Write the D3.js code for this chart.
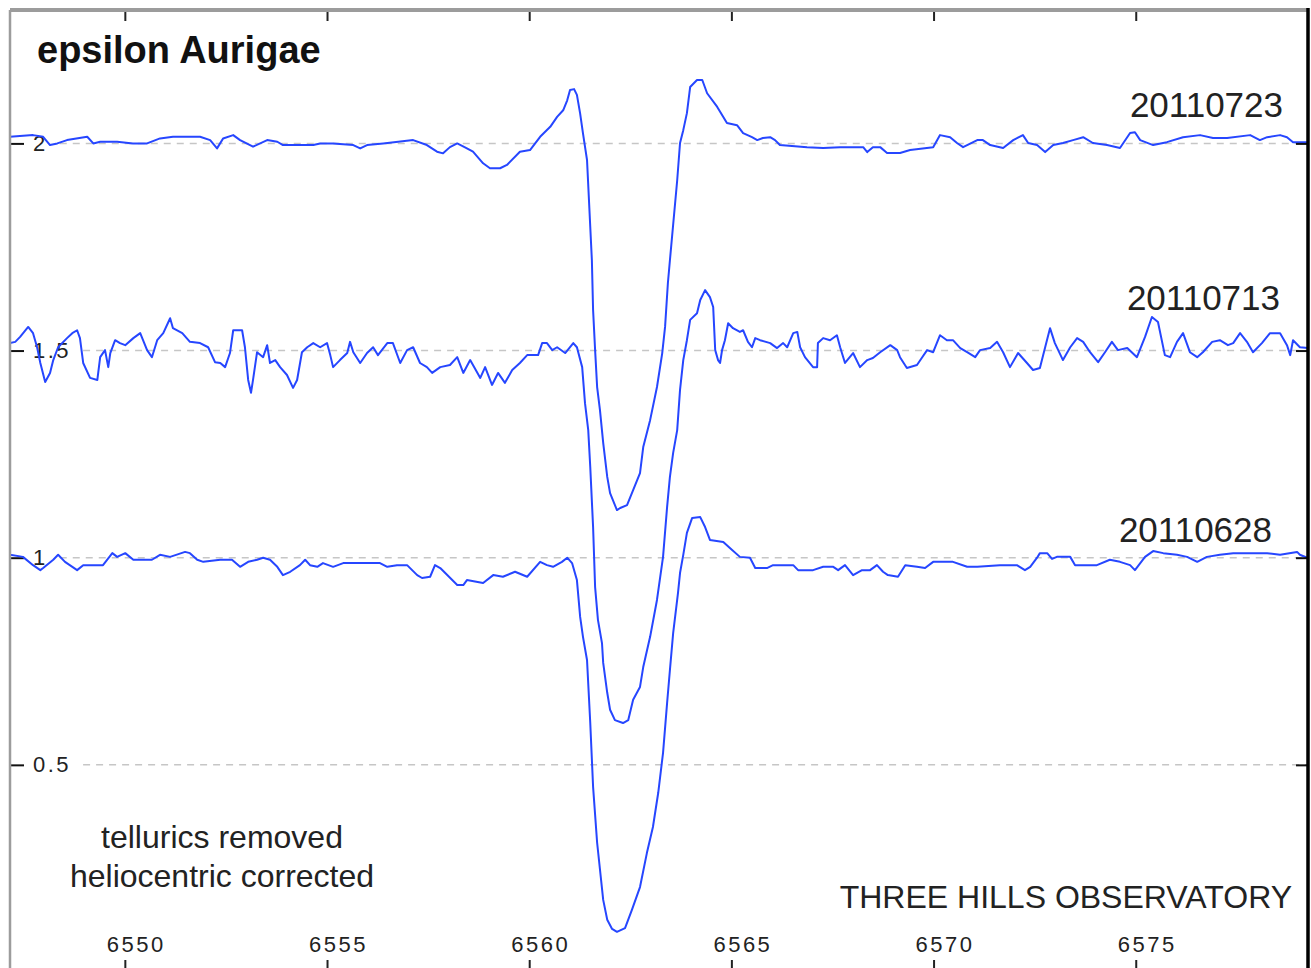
<!DOCTYPE html>
<html><head><meta charset="utf-8">
<script src="https://cdn.jsdelivr.net/npm/d3@7"></script>
<style>body{margin:0;background:#fff}svg{display:block}text{font-family:"Liberation Sans",Arial,sans-serif}</style>
</head><body><svg id="c" width="1311" height="968"></svg>
<script>
const chartTitle = "epsilon Aurigae";
const seriesNames = ["20110723", "20110713", "20110628"];
const notes = ["tellurics removed", "heliocentric corrected"];
const credit = "THREE HILLS OBSERVATORY";
const xTicks = [6550, 6555, 6560, 6565, 6570, 6575];
const yTicks = [0.5, 1, 1.5, 2];

const wl723 = [6547.16,6547.73,6547.98,6548.15,6548.33,6548.57,6549.07,6549.22,6549.39,6549.81,
6550.20,6550.55,6550.87,6551.19,6551.86,6552.11,6552.28,6552.43,6552.68,6552.85,
6553.17,6553.52,6553.77,6553.91,6554.66,6554.83,6555.15,6555.65,6555.82,6555.99,
6556.39,6557.13,6557.47,6557.72,6557.87,6558.04,6558.22,6558.46,6558.61,6558.86,
6559.03,6559.28,6559.45,6559.77,6560.02,6560.27,6560.52,6560.69,6560.84,6560.94,
6561.01,6561.11,6561.18,6561.26,6561.33,6561.43,6561.55,6561.58,6561.63,6561.68,
6561.75,6561.83,6561.93,6562.00,6562.17,6562.25,6562.42,6562.57,6562.74,6562.82,
6562.99,6563.16,6563.29,6563.36,6563.43,6563.48,6563.66,6563.73,6563.81,6563.90,
6563.98,6564.15,6564.28,6564.40,6564.65,6564.89,6565.14,6565.29,6565.51,6565.64,
6565.78,6565.96,6566.08,6566.20,6566.87,6567.27,6567.69,6568.26,6568.36,6568.50,
6568.68,6568.85,6569.17,6569.42,6569.99,6570.16,6570.41,6570.58,6570.73,6571.08,
6571.22,6571.40,6571.72,6571.97,6572.21,6572.34,6572.56,6572.76,6572.96,6573.20,
6573.45,6573.70,6573.94,6574.29,6574.61,6574.86,6574.98,6575.11,6575.43,6575.77,
6576.17,6576.59,6576.91,6577.26,6577.83,6578.07,6578.25,6578.57,6578.74,6578.89,
6579.26];
const fx723 = [2.016,2.020,2.016,1.996,2.000,2.008,2.016,2.000,2.004,2.004,
2.000,2.000,2.012,2.016,2.016,2.008,1.988,2.012,2.020,2.008,
1.992,2.008,2.004,1.996,1.996,2.000,2.000,1.996,1.988,1.996,
2.000,2.008,1.996,1.980,1.976,1.991,2.000,1.988,1.980,1.952,
1.940,1.940,1.948,1.980,1.984,2.016,2.040,2.064,2.080,2.104,
2.129,2.131,2.117,2.072,2.024,1.960,1.718,1.598,1.501,1.412,
1.356,1.277,1.195,1.156,1.115,1.120,1.127,1.163,1.204,1.267,
1.332,1.412,1.494,1.557,1.663,1.718,1.911,2.001,2.032,2.073,
2.136,2.153,2.153,2.121,2.088,2.049,2.044,2.025,2.015,2.008,
2.013,2.015,2.008,1.996,1.991,1.989,1.991,1.991,1.979,1.991,
1.991,1.977,1.977,1.984,1.991,2.020,2.015,2.001,1.991,2.008,
2.008,1.996,1.989,2.008,2.020,2.001,1.996,1.979,1.996,2.001,
2.008,2.015,2.001,1.996,1.989,2.025,2.027,2.008,1.996,2.003,
2.015,2.020,2.013,2.013,2.020,2.008,2.015,2.020,2.015,2.003,
2.003];

const wl713 = [6547.16,6547.29,6547.41,6547.61,6547.73,6547.83,6547.91,6548.03,6548.15,6548.23,
6548.35,6548.57,6548.70,6548.82,6548.89,6548.97,6549.14,6549.32,6549.39,6549.51,
6549.59,6549.64,6549.76,6549.88,6550.01,6550.21,6550.38,6550.55,6550.67,6550.80,
6550.95,6551.12,6551.19,6551.42,6551.61,6551.86,6552.06,6552.23,6552.36,6552.48,
6552.60,6552.68,6552.90,6552.97,6553.05,6553.12,6553.17,6553.27,6553.42,6553.52,
6553.59,6553.72,6553.84,6554.01,6554.16,6554.26,6554.38,6554.51,6554.66,6554.83,
6555.00,6555.08,6555.15,6555.32,6555.50,6555.57,6555.65,6555.82,6555.99,6556.14,
6556.26,6556.49,6556.63,6556.81,6556.98,6557.13,6557.30,6557.47,6557.60,6557.80,
6558.04,6558.22,6558.37,6558.54,6558.79,6558.91,6559.08,6559.23,6559.40,6559.58,
6559.77,6559.95,6560.22,6560.32,6560.44,6560.57,6560.69,6560.89,6561.09,6561.18,
6561.31,6561.38,6561.46,6561.51,6561.58,6561.63,6561.70,6561.80,6561.83,6561.93,
6562.00,6562.12,6562.32,6562.45,6562.57,6562.74,6562.82,6562.99,6563.16,6563.31,
6563.41,6563.48,6563.56,6563.66,6563.73,6563.81,6563.90,6563.98,6564.15,6564.23,
6564.35,6564.47,6564.55,6564.60,6564.67,6564.72,6564.77,6564.84,6564.92,6565.04,
6565.21,6565.29,6565.41,6565.51,6565.59,6565.71,6565.96,6566.13,6566.28,6566.38,
6566.53,6566.63,6566.70,6566.82,6567.02,6567.12,6567.14,6567.27,6567.44,6567.61,
6567.69,6567.81,6568.01,6568.18,6568.36,6568.50,6568.68,6568.93,6569.10,6569.17,
6569.34,6569.59,6569.72,6569.84,6569.99,6570.16,6570.33,6570.48,6570.66,6570.83,
6571.03,6571.15,6571.40,6571.57,6571.72,6571.89,6572.09,6572.31,6572.46,6572.63,
6572.76,6572.88,6573.00,6573.20,6573.38,6573.55,6573.70,6573.87,6574.07,6574.24,
6574.41,6574.56,6574.79,6575.03,6575.23,6575.40,6575.55,6575.72,6575.85,6576.02,
6576.17,6576.34,6576.52,6576.66,6576.89,6577.08,6577.28,6577.41,6577.58,6577.75,
6577.90,6578.12,6578.32,6578.57,6578.74,6578.82,6578.89,6579.06,6579.26];
const fx713 = [1.518,1.521,1.533,1.557,1.542,1.508,1.470,1.424,1.446,1.477,
1.508,1.530,1.542,1.549,1.530,1.470,1.434,1.429,1.484,1.501,
1.460,1.494,1.525,1.518,1.513,1.530,1.542,1.501,1.484,1.525,
1.542,1.578,1.554,1.542,1.521,1.518,1.508,1.472,1.470,1.460,
1.494,1.549,1.549,1.508,1.429,1.398,1.429,1.496,1.484,1.513,
1.470,1.477,1.460,1.441,1.410,1.429,1.496,1.508,1.518,1.508,
1.518,1.489,1.460,1.477,1.494,1.521,1.496,1.470,1.494,1.508,
1.489,1.518,1.518,1.470,1.501,1.508,1.470,1.460,1.446,1.460,
1.465,1.484,1.446,1.477,1.434,1.460,1.417,1.446,1.422,1.453,
1.470,1.489,1.489,1.518,1.518,1.501,1.508,1.494,1.518,1.508,
1.460,1.373,1.308,1.219,1.074,0.929,0.850,0.794,0.746,0.674,
0.633,0.608,0.601,0.608,0.657,0.688,0.736,0.809,0.898,1.002,
1.122,1.195,1.253,1.308,1.405,1.477,1.525,1.574,1.590,1.622,
1.646,1.629,1.605,1.501,1.477,1.470,1.501,1.525,1.566,1.554,
1.545,1.549,1.521,1.508,1.530,1.525,1.518,1.506,1.518,1.508,
1.542,1.545,1.508,1.484,1.460,1.460,1.518,1.530,1.525,1.537,
1.508,1.470,1.494,1.460,1.477,1.482,1.496,1.513,1.501,1.484,
1.458,1.465,1.484,1.501,1.496,1.537,1.525,1.525,1.506,1.496,
1.484,1.501,1.506,1.521,1.496,1.460,1.494,1.470,1.453,1.458,
1.508,1.554,1.518,1.477,1.508,1.530,1.521,1.496,1.472,1.496,
1.521,1.501,1.506,1.484,1.533,1.581,1.569,1.489,1.484,1.521,
1.542,1.496,1.484,1.496,1.521,1.525,1.513,1.518,1.542,1.521,
1.496,1.518,1.542,1.542,1.513,1.489,1.525,1.508,1.506];

const wl628 = [6547.16,6547.48,6547.73,6547.91,6547.98,6548.23,6548.35,6548.52,6548.82,6548.97,
6549.46,6549.69,6549.81,6550.01,6550.21,6550.67,6550.87,6551.12,6551.49,6551.61,
6551.79,6551.94,6552.36,6552.65,6552.85,6553.05,6553.27,6553.42,6553.59,6553.77,
6553.91,6554.09,6554.33,6554.46,6554.58,6554.76,6554.90,6555.15,6555.40,6556.31,
6556.49,6556.73,6556.98,6557.23,6557.35,6557.55,6557.67,6557.80,6558.22,6558.37,
6558.46,6558.86,6559.11,6559.35,6559.65,6559.95,6560.27,6560.44,6560.59,6560.81,
6560.94,6561.06,6561.18,6561.26,6561.33,6561.43,6561.51,6561.58,6561.68,6561.83,
6561.93,6562.05,6562.17,6562.37,6562.54,6562.74,6562.91,6563.06,6563.19,6563.31,
6563.41,6563.48,6563.56,6563.68,6563.73,6563.81,6563.90,6564.03,6564.23,6564.35,
6564.47,6564.80,6564.97,6565.21,6565.46,6565.59,6565.88,6566.03,6566.53,6566.65,
6567.02,6567.27,6567.52,6567.64,6567.81,6568.01,6568.23,6568.43,6568.60,6568.75,
6568.87,6569.12,6569.30,6569.59,6569.79,6569.99,6570.48,6570.83,6571.08,6571.64,
6572.06,6572.26,6572.39,6572.56,6572.63,6572.81,6572.93,6573.05,6573.38,6573.50,
6574.04,6574.36,6574.61,6574.86,6574.98,6575.23,6575.43,6575.68,6576.02,6576.27,
6576.52,6576.76,6577.08,6577.41,6578.25,6578.57,6578.99,6579.06,6579.24];
const fx628 = [1.007,1.002,0.982,0.970,0.975,0.995,1.007,0.990,0.970,0.982,
0.982,1.011,1.002,1.011,0.995,0.995,1.007,1.002,1.014,1.011,
0.995,0.990,0.995,0.995,0.978,0.990,0.995,1.000,0.995,0.978,
0.958,0.966,0.982,0.995,0.982,0.978,0.987,0.978,0.987,0.987,
0.978,0.982,0.982,0.958,0.951,0.954,0.982,0.975,0.934,0.934,
0.946,0.939,0.958,0.954,0.966,0.954,0.990,0.982,0.978,0.990,
1.000,0.987,0.946,0.857,0.809,0.753,0.601,0.447,0.312,0.174,
0.126,0.104,0.097,0.106,0.150,0.205,0.287,0.350,0.432,0.529,
0.649,0.729,0.818,0.915,0.963,1.007,1.060,1.096,1.098,1.074,
1.043,1.038,1.023,1.002,1.000,0.975,0.975,0.982,0.982,0.970,
0.970,0.978,0.978,0.970,0.982,0.958,0.970,0.970,0.982,0.966,
0.958,0.954,0.982,0.978,0.975,0.990,0.990,0.978,0.978,0.982,
0.982,0.970,0.978,1.000,1.011,1.011,0.997,1.002,1.002,0.982,
0.982,0.995,0.990,0.982,0.970,1.002,1.016,1.011,1.007,1.002,
0.990,1.002,1.007,1.011,1.011,1.007,1.014,1.007,1.000];

const W = 1311, H = 968;
const L = 10, R = 1308, T = 10, B = 972;
const x = d3.scaleLinear().domain([6547.16, 6579.26]).range([L, R]);
const y = d3.scaleLinear().domain([0, 2.322]).range([B, T]);
const svg = d3.select("#c");
svg.append("rect").attr("width", W).attr("height", H).attr("fill", "#fff");
svg.append("clipPath").attr("id", "clip").append("rect")
  .attr("x", L).attr("y", T).attr("width", R - L).attr("height", B - T);

// left axis (labels first, to measure)
const gl = svg.append("g").attr("transform", `translate(${L},0)`)
  .call(d3.axisRight(y).tickValues(yTicks).tickSize(14).tickPadding(9).tickFormat(d => String(d)));
gl.select(".domain").remove();
gl.selectAll("line").attr("stroke", "#111").attr("stroke-width", 2);
gl.selectAll("text").attr("font-size", 22).attr("letter-spacing", "2.5px").attr("fill", "#222")
  .attr("font-family", '"Liberation Sans",Arial,sans-serif');

// grid lines, starting after each label
const labelEnds = {};
gl.selectAll(".tick").each(function (d) {
  const t = d3.select(this).select("text").node();
  labelEnds[d] = L + 23 + t.getComputedTextLength() + 12;
});
const grid = svg.insert("g", ":first-child").attr("class", "grid");
svg.select("rect").lower();
grid.selectAll("line").data(yTicks).join("line")
  .attr("x1", d => labelEnds[d]).attr("x2", R)
  .attr("y1", d => y(d)).attr("y2", d => y(d))
  .attr("stroke", "#c6c6c6").attr("stroke-width", 1.5).attr("stroke-dasharray", "7,6");

// series
const series = [
  { name: seriesNames[0], wl: wl723, fx: fx723 },
  { name: seriesNames[1], wl: wl713, fx: fx713 },
  { name: seriesNames[2], wl: wl628, fx: fx628 }
];
const line = d3.line().x(d => x(d[0])).y(d => y(d[1]));
svg.append("g").attr("clip-path", "url(#clip)").selectAll("path").data(series).join("path")
  .attr("d", s => line(d3.zip(s.wl, s.fx)))
  .attr("fill", "none").attr("stroke", "#2646ff").attr("stroke-width", 2)
  .attr("stroke-linejoin", "round");

// top axis (ticks only, pointing inward)
const gt = svg.append("g").attr("transform", `translate(0,${T})`)
  .call(d3.axisBottom(x).tickValues(xTicks).tickSize(11).tickFormat(""));
gt.select(".domain").remove();
gt.selectAll("line").attr("stroke", "#222").attr("stroke-width", 2);

// bottom axis (ticks inward, labels above)
const gb = svg.append("g").attr("transform", `translate(0,${B})`)
  .call(d3.axisTop(x).tickValues(xTicks).tickSize(12).tickPadding(8).tickFormat(d => String(d)));
gb.select(".domain").remove();
gb.selectAll("line").attr("stroke", "#222").attr("stroke-width", 2);
gb.selectAll("text").attr("font-size", 22).attr("letter-spacing", "2.5px").attr("fill", "#222")
  .attr("dx", 11).attr("font-family", '"Liberation Sans",Arial,sans-serif');

// right axis (ticks only)
const gr = svg.append("g").attr("transform", `translate(${R},0)`)
  .call(d3.axisLeft(y).tickValues(yTicks).tickSize(12).tickFormat(""));
gr.select(".domain").remove();
gr.selectAll("line").attr("stroke", "#111").attr("stroke-width", 2);

// frame
svg.append("line").attr("x1", L).attr("x2", R).attr("y1", T).attr("y2", T)
  .attr("stroke", "#9c9c9c").attr("stroke-width", 4);
svg.append("line").attr("x1", L).attr("x2", L).attr("y1", T).attr("y2", H)
  .attr("stroke", "#9c9c9c").attr("stroke-width", 2.5);
svg.append("line").attr("x1", R).attr("x2", R).attr("y1", T - 2).attr("y2", H)
  .attr("stroke", "#000").attr("stroke-width", 3.5);

// texts
svg.append("text").attr("x", 37).attr("y", 63).attr("font-size", 38).attr("font-weight", "bold")
  .attr("fill", "#111").text(chartTitle);
const datePos = [[1283, 117], [1280, 310], [1272, 542]];
svg.selectAll("text.date").data(seriesNames).join("text").attr("class", "date")
  .attr("x", (d, i) => datePos[i][0]).attr("y", (d, i) => datePos[i][1])
  .attr("text-anchor", "end").attr("font-size", 35).attr("fill", "#222").text(d => d);
svg.selectAll("text.note").data(notes).join("text").attr("class", "note")
  .attr("x", 222).attr("y", (d, i) => 848 + i * 39)
  .attr("text-anchor", "middle").attr("font-size", 32).attr("fill", "#222").text(d => d);
svg.append("text").attr("x", 1292).attr("y", 908).attr("text-anchor", "end")
  .attr("font-size", 32).attr("fill", "#222").text(credit);
</script></body></html>
